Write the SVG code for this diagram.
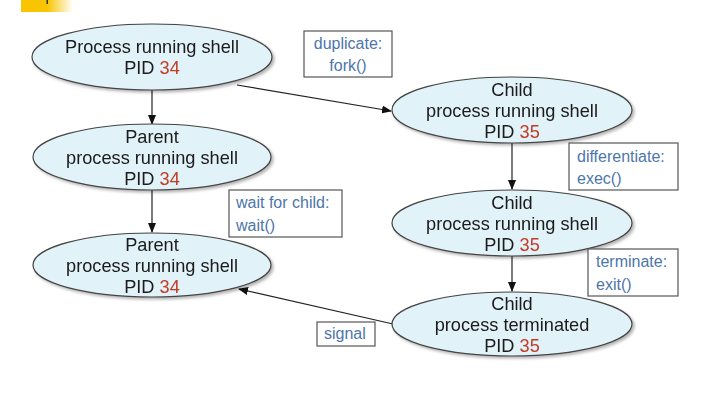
<svg xmlns="http://www.w3.org/2000/svg" width="715" height="412" viewBox="0 0 715 412">
<defs>
<linearGradient id="yg" x1="0" y1="0" x2="1" y2="0">
<stop offset="0" stop-color="#f9c400"/>
<stop offset="0.5" stop-color="#f9c400"/>
<stop offset="1" stop-color="#ffffff"/>
</linearGradient>
<marker id="arr" markerWidth="10" markerHeight="8" refX="9" refY="4" orient="auto" markerUnits="userSpaceOnUse">
<path d="M0,0 L10,4 L0,8 Z" fill="#111"/>
</marker>
<filter id="sh" x="-10%" y="-10%" width="130%" height="140%">
<feGaussianBlur in="SourceAlpha" stdDeviation="1.5"/>
<feOffset dx="1.5" dy="2" result="b"/>
<feComponentTransfer><feFuncA type="linear" slope="0.3"/></feComponentTransfer>
<feMerge><feMergeNode/><feMergeNode in="SourceGraphic"/></feMerge>
</filter>
</defs>
<style>
.node ellipse{fill:#e1f2f8;stroke:#444;stroke-width:1.2;}
.nt{font-family:"Liberation Sans",Arial,sans-serif;font-size:18.2px;fill:#1a1a1a;text-anchor:middle;}
.pid{fill:#c23b22;}
.lbl rect{fill:#fff;stroke:#555;stroke-width:1.2;}
.lt{font-family:"Liberation Sans",Arial,sans-serif;font-size:16px;fill:#4d76aa;}
.conn line{stroke:#222;stroke-width:1.2;marker-end:url(#arr);}
</style>
<rect width="715" height="412" fill="#fff"/>
<rect x="21" y="0" width="52" height="12" fill="url(#yg)"/>
<rect x="46.5" y="0" width="1.5" height="4" fill="#333"/>

<g id="connectors" class="conn">
<line x1="152" y1="90" x2="152" y2="124"/>
<line x1="152" y1="190" x2="152" y2="232"/>
<line x1="237" y1="85" x2="391" y2="111"/>
<line x1="512" y1="143" x2="512" y2="189"/>
<line x1="512" y1="256" x2="512" y2="291"/>
<line x1="393" y1="324" x2="239" y2="289"/>
</g>

<g id="n1" class="node" filter="url(#sh)">
<ellipse cx="152" cy="57" rx="120" ry="33"/>
<text class="nt" x="152" y="53">Process running shell</text>
<text class="nt" x="152" y="74">PID <tspan class="pid">34</tspan></text>
</g>
<g id="n2" class="node" filter="url(#sh)">
<ellipse cx="152" cy="157" rx="119" ry="33"/>
<text class="nt" x="152" y="143">Parent</text>
<text class="nt" x="152" y="164">process running shell</text>
<text class="nt" x="152" y="185">PID <tspan class="pid">34</tspan></text>
</g>
<g id="n3" class="node" filter="url(#sh)">
<ellipse cx="152" cy="265" rx="119" ry="32"/>
<text class="nt" x="152" y="251">Parent</text>
<text class="nt" x="152" y="272">process running shell</text>
<text class="nt" x="152" y="293">PID <tspan class="pid">34</tspan></text>
</g>
<g id="n4" class="node" filter="url(#sh)">
<ellipse cx="512" cy="110" rx="120" ry="33"/>
<text class="nt" x="512" y="96">Child</text>
<text class="nt" x="512" y="117">process running shell</text>
<text class="nt" x="512" y="138">PID <tspan class="pid">35</tspan></text>
</g>
<g id="n5" class="node" filter="url(#sh)">
<ellipse cx="512" cy="223" rx="120" ry="33"/>
<text class="nt" x="512" y="209">Child</text>
<text class="nt" x="512" y="230">process running shell</text>
<text class="nt" x="512" y="251">PID <tspan class="pid">35</tspan></text>
</g>
<g id="n6" class="node" filter="url(#sh)">
<ellipse cx="512" cy="324" rx="120" ry="32"/>
<text class="nt" x="512" y="310">Child</text>
<text class="nt" x="512" y="331">process terminated</text>
<text class="nt" x="512" y="352">PID <tspan class="pid">35</tspan></text>
</g>

<g id="l1" class="lbl">
<rect x="304" y="31" width="88" height="46"/>
<text class="lt" x="348" y="49" text-anchor="middle">duplicate:</text>
<text class="lt" x="348" y="71" text-anchor="middle">fork()</text>
</g>
<g id="l2" class="lbl">
<rect x="569" y="143" width="109" height="47"/>
<text class="lt" x="577" y="162">differentiate:</text>
<text class="lt" x="577" y="184">exec()</text>
</g>
<g id="l3" class="lbl">
<rect x="229" y="190" width="113" height="47"/>
<text class="lt" x="236" y="208">wait for child:</text>
<text class="lt" x="236" y="231">wait()</text>
</g>
<g id="l4" class="lbl">
<rect x="588" y="249" width="90" height="47"/>
<text class="lt" x="596" y="267">terminate:</text>
<text class="lt" x="596" y="290">exit()</text>
</g>
<g id="l5" class="lbl">
<rect x="317" y="322" width="58" height="24"/>
<text class="lt" x="324" y="339">signal</text>
</g>
</svg>
